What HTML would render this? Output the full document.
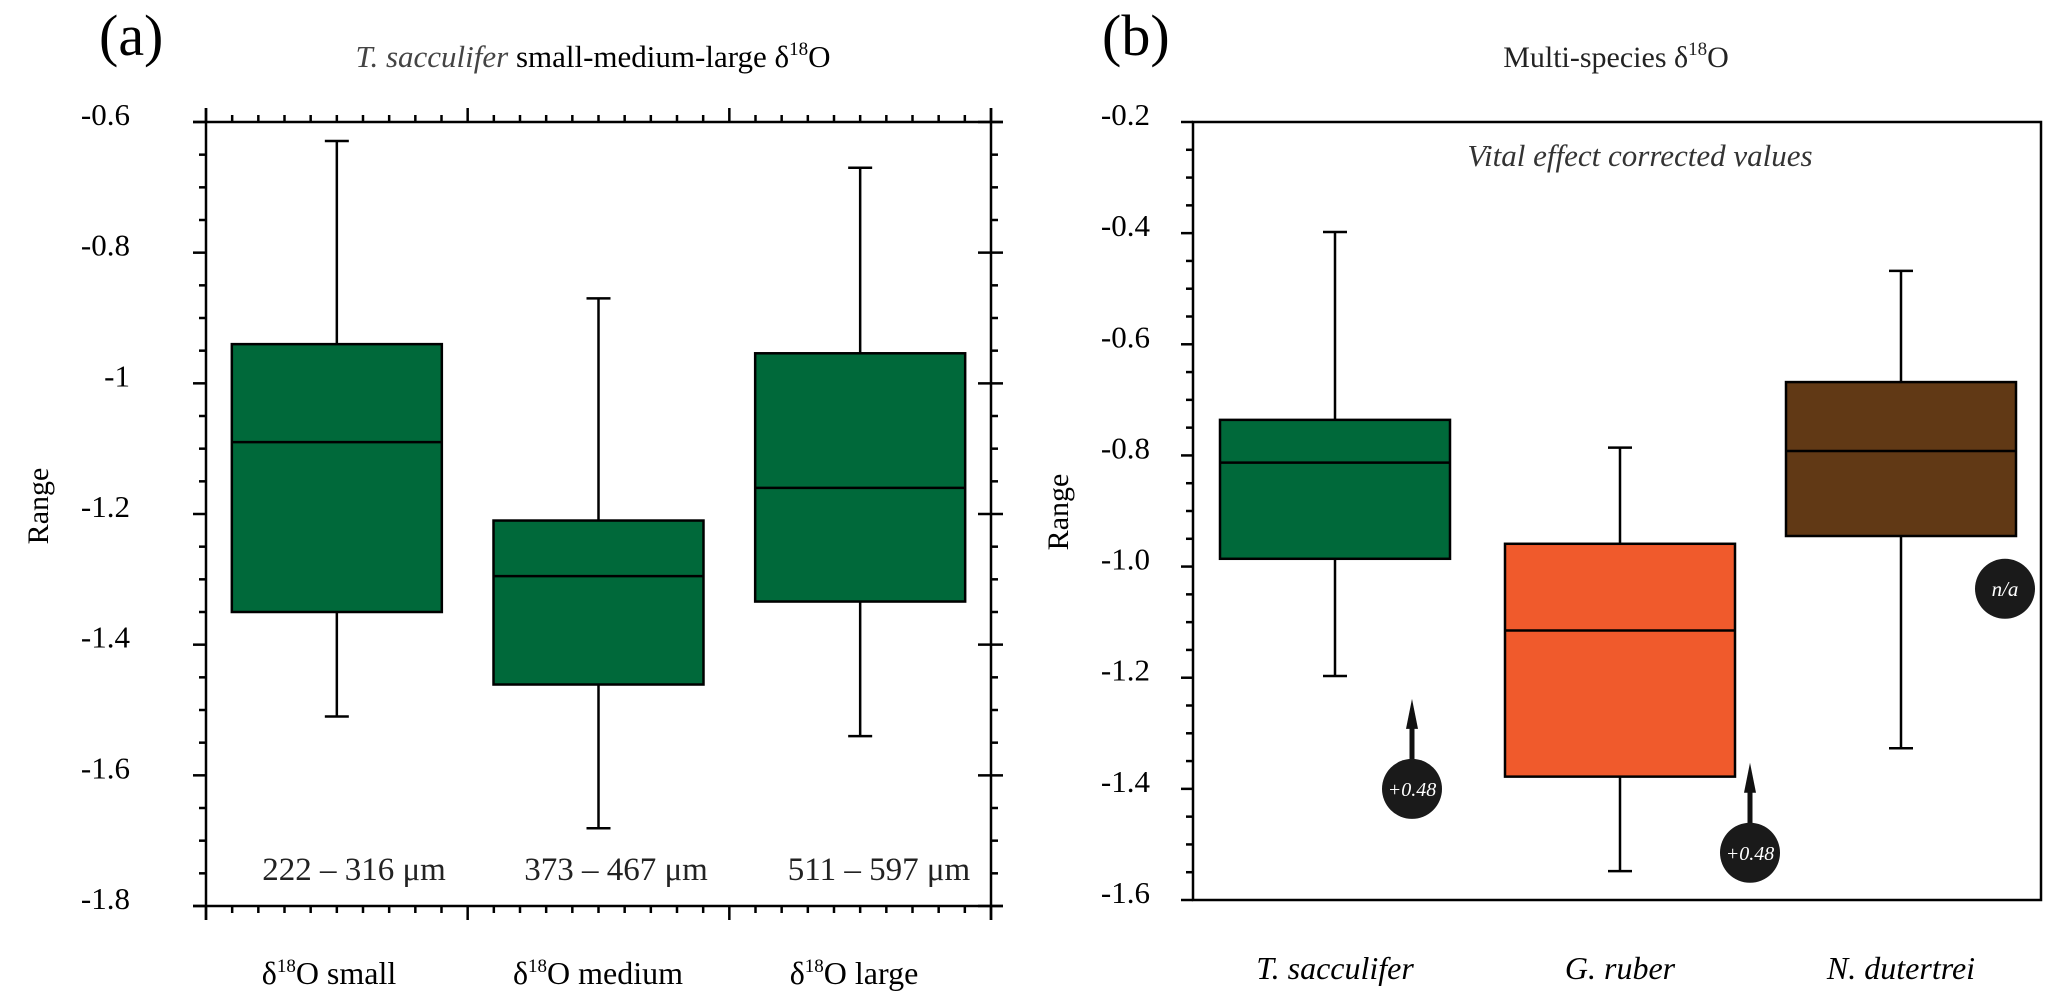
<!DOCTYPE html>
<html><head><meta charset="utf-8">
<style>
html,body{margin:0;padding:0;background:#fff;}
svg{display:block;font-family:"Liberation Serif","DejaVu Serif",serif;}
</style></head>
<body>
<svg id="chart" width="2067" height="1004" viewBox="0 0 2067 1004" xmlns="http://www.w3.org/2000/svg">
<g id="pa"></g>
<g id="pb"></g>
</svg>
<script>
// Panel A data
const catsA = ["small","medium","large"];
const whiskerHiA = [-0.629,-0.870,-0.670];
const q3A = [-0.940,-1.210,-0.954];
const medA = [-1.090,-1.295,-1.160];
const q1A = [-1.350,-1.461,-1.334];
const whiskerLoA = [-1.510,-1.681,-1.540];
const sizeLabelsA = ["222 – 316 μm","373 – 467 μm","511 – 597 μm"];
const ticksA = ["-0.6","-0.8","-1","-1.2","-1.4","-1.6","-1.8"];
const tickValsA = [-0.6,-0.8,-1,-1.2,-1.4,-1.6,-1.8];
// Panel B data
const catsB = ["T. sacculifer","G. ruber","N. dutertrei"];
const whiskerHiB = [-0.398,-0.786,-0.468];
const q3B = [-0.736,-0.959,-0.668];
const medB = [-0.813,-1.115,-0.792];
const q1B = [-0.986,-1.378,-0.945];
const whiskerLoB = [-1.197,-1.548,-1.327];
const ticksB = ["-0.2","-0.4","-0.6","-0.8","-1.0","-1.2","-1.4","-1.6"];
const tickValsB = [-0.2,-0.4,-0.6,-0.8,-1.0,-1.2,-1.4,-1.6];
const annotVals = [-1.40,-1.515,-1.04];
const annotText = ["+0.48","+0.48","n/a"];

const NS="http://www.w3.org/2000/svg";
function mk(parent,tag,attrs,text){const e=document.createElementNS(NS,tag);for(const k in attrs)e.setAttribute(k,attrs[k]);if(text!==undefined)e.textContent=text;parent.appendChild(e);return e;}
function line(p,x1,y1,x2,y2,w,name){const l=mk(p,'line',{x1,y1,x2,y2,stroke:'#000','stroke-width':w||2.5});

return l;}

// ---------- Panel A ----------
const pa=document.getElementById('pa');
const aL=206,aR=991,aT=122,aB=906;
const yA=v=>aT+(-0.6-v)/1.2*(aB-aT);
const xA=i=>aL+(aR-aL)*(i+0.5)/3;
line(pa,193,aT,1003,aT,2.5,'top-axis-line');
line(pa,193,aB,1003,aB,2.5,'x-axis-line');
line(pa,aL,aT-14,aL,aB+14,2.5,'y-axis-line');
line(pa,aR,aT-14,aR,aB+14,2.5,'right-axis-line');
for(let k=0;k<=24;k++){const y=aT+(aB-aT)*k/24;const maj=k%4===0;
 line(pa,aL-(maj?13:7),y,aL,y,2.5,'y-tick');
 line(pa,aR-(maj?13:0),y,aR+(maj?12:7),y,2.5,'right-tick');}
for(let k=0;k<=30;k++){const x=aL+(aR-aL)*k/30;const maj=k%10===0;
 line(pa,x,aB,x,aB+(maj?14:7),2.5,'x-tick');
 line(pa,x,aT,x,aT-(maj?14:7),2.5,'top-tick');}
ticksA.forEach((t,i)=>{const e=mk(pa,'text',{x:130,y:yA(tickValsA[i])+3,'text-anchor':'end','font-size':31},t);
 
 });
const bwA=210;
catsA.forEach((c,i)=>{const cx=xA(i);const g=mk(pa,'g',{});
 
 
 line(g,cx,yA(whiskerHiA[i]),cx,yA(q3A[i]),2.5,'whisker-upper');
 line(g,cx,yA(q1A[i]),cx,yA(whiskerLoA[i]),2.5,'whisker-lower');
 line(g,cx-12,yA(whiskerHiA[i]),cx+12,yA(whiskerHiA[i]),2.5,'whisker-cap-upper');
 line(g,cx-12,yA(whiskerLoA[i]),cx+12,yA(whiskerLoA[i]),2.5,'whisker-cap-lower');
 const r=mk(g,'rect',{x:cx-bwA/2,y:yA(q3A[i]),width:bwA,height:yA(q1A[i])-yA(q3A[i]),fill:'#00693a',stroke:'#000','stroke-width':2.5});
 
 
 line(g,cx-bwA/2,yA(medA[i]),cx+bwA/2,yA(medA[i]),2.5,'median-line');
});
const sizeX=[354,616,879];
sizeLabelsA.forEach((s,i)=>{const e=mk(pa,'text',{x:sizeX[i],y:880,'text-anchor':'middle','font-size':33,fill:'#222'},s);
 
 });
const xlabA=[[329,' small'],[598,' medium'],[854,' large']];
xlabA.forEach(([x,s])=>{const e=mk(pa,'text',{x,y:984,'text-anchor':'middle','font-size':32});
 
 
 e.innerHTML='δ<tspan font-size="19" dy="-12">18</tspan><tspan dy="12">O'+s+'</tspan>';});
let t=mk(pa,'text',{x:99,y:55,'font-size':58},'(a)');


t=mk(pa,'text',{x:593,y:67,'text-anchor':'middle','font-size':31});


t.innerHTML='<tspan font-style="italic" fill="#444">T. sacculifer</tspan>  small-medium-large δ<tspan font-size="19" dy="-12">18</tspan><tspan dy="12">O</tspan>';
t=mk(pa,'text',{x:0,y:0,'text-anchor':'middle','font-size':30,transform:'translate(48,506) rotate(-90)'},'Range');



// ---------- Panel B ----------
const pb=document.getElementById('pb');
const bL=1193,bR=2041,bT=122,bB=900;
const yB=v=>bT+(-0.2-v)/1.4*(bB-bT);
const xB=i=>[1335,1620,1901][i];
let fr=mk(pb,'rect',{x:bL,y:bT,width:bR-bL,height:bB-bT,fill:'none',stroke:'#000','stroke-width':2.5});


for(let k=0;k<=28;k++){const y=bT+(bB-bT)*k/28;const maj=k%4===0;
 line(pb,bL-(maj?12:7),y,bL,y,2.5,'y-tick');}
ticksB.forEach((s,i)=>{const e=mk(pb,'text',{x:1150,y:yB(tickValsB[i])+3,'text-anchor':'end','font-size':31},s);
 
 });
const fills=['#00693a','#f05a2c','#613915'];
const bwB=230;
catsB.forEach((c,i)=>{const cx=xB(i);const g=mk(pb,'g',{});
 
 
 line(g,cx,yB(whiskerHiB[i]),cx,yB(q3B[i]),2.5,'whisker-upper');
 line(g,cx,yB(q1B[i]),cx,yB(whiskerLoB[i]),2.5,'whisker-lower');
 line(g,cx-12,yB(whiskerHiB[i]),cx+12,yB(whiskerHiB[i]),2.5,'whisker-cap-upper');
 line(g,cx-12,yB(whiskerLoB[i]),cx+12,yB(whiskerLoB[i]),2.5,'whisker-cap-lower');
 const r=mk(g,'rect',{x:cx-bwB/2,y:yB(q3B[i]),width:bwB,height:yB(q1B[i])-yB(q3B[i]),fill:fills[i],stroke:'#000','stroke-width':2.5});
 
 
 line(g,cx-bwB/2,yB(medB[i]),cx+bwB/2,yB(medB[i]),2.5,'median-line');
 const e=mk(pb,'text',{x:cx,y:979,'text-anchor':'middle','font-size':32,'font-style':'italic'},c);
 
 
});
const annX=[1412,1750,2005];
annotText.forEach((s,i)=>{const cx=annX[i],cy=yB(annotVals[i]);const g=mk(pb,'g',{});
 
 
 if(s!=='n/a'){mk(g,'rect',{x:cx-2.5,y:cy-62,width:5,height:40,fill:'#111'});
  mk(g,'polygon',{points:`${cx-6},${cy-60} ${cx+6},${cy-60} ${cx},${cy-90}`,fill:'#111'});}
 mk(g,'circle',{cx,cy,r:30,fill:'#1a1a1a'});
 mk(g,'text',{x:cx,y:cy+7,'text-anchor':'middle','font-size':s==='n/a'?21:20,'font-style':'italic',fill:'#fff'},s);
});
t=mk(pb,'text',{x:1102,y:55,'font-size':58},'(b)');


t=mk(pb,'text',{x:1616,y:67,'text-anchor':'middle','font-size':30,fill:'#222'});


t.innerHTML='Multi-species δ<tspan font-size="19" dy="-12">18</tspan><tspan dy="12">O</tspan>';
t=mk(pb,'text',{x:1640,y:166,'text-anchor':'middle','font-size':31,'font-style':'italic',fill:'#333'},'Vital effect corrected values');


t=mk(pb,'text',{x:0,y:0,'text-anchor':'middle','font-size':30,transform:'translate(1068,512) rotate(-90)'},'Range');


</script>
</body></html>
